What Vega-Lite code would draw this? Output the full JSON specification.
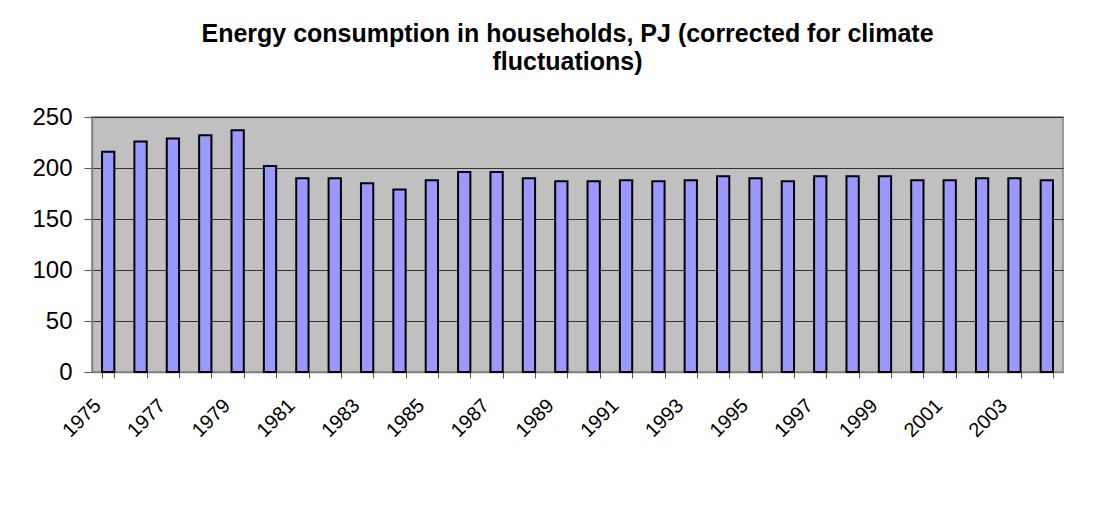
{
  "$schema": "https://vega.github.io/schema/vega-lite/v6.json",
  "autosize": "none",
  "width": 971,
  "height": 255,
  "padding": {"left": 92, "top": 117, "right": 51, "bottom": 148},
  "background": "white",
  "title": {
    "text": ["Energy consumption in households, PJ (corrected for climate", "fluctuations)"],
    "font": "Liberation Sans",
    "fontSize": 25,
    "fontWeight": "bold",
    "color": "black",
    "anchor": "middle",
    "dx": -10,
    "offset": 30,
    "lineHeight": 28
  },
  "config": {
    "view": {"fill": "#C0C0C0", "stroke": "#808080", "strokeWidth": 1.5},
    "axis": {"labelFont": "Liberation Sans", "labelColor": "black"}
  },
  "data": {
    "values": [
      {"year": "1975", "pj": 216},
      {"year": "1976", "pj": 226},
      {"year": "1977", "pj": 229},
      {"year": "1978", "pj": 232},
      {"year": "1979", "pj": 237},
      {"year": "1980", "pj": 202},
      {"year": "1981", "pj": 190},
      {"year": "1982", "pj": 190},
      {"year": "1983", "pj": 185},
      {"year": "1984", "pj": 179},
      {"year": "1985", "pj": 188},
      {"year": "1986", "pj": 196},
      {"year": "1987", "pj": 196},
      {"year": "1988", "pj": 190},
      {"year": "1989", "pj": 187},
      {"year": "1990", "pj": 187},
      {"year": "1991", "pj": 188},
      {"year": "1992", "pj": 187},
      {"year": "1993", "pj": 188},
      {"year": "1994", "pj": 192},
      {"year": "1995", "pj": 190},
      {"year": "1996", "pj": 187},
      {"year": "1997", "pj": 192},
      {"year": "1998", "pj": 192},
      {"year": "1999", "pj": 192},
      {"year": "2000", "pj": 188},
      {"year": "2001", "pj": 188},
      {"year": "2002", "pj": 190},
      {"year": "2003", "pj": 190},
      {"year": "2004", "pj": 188}
    ]
  },
  "mark": {"type": "bar", "fill": "#9999FF", "stroke": "black", "strokeWidth": 2},
  "encoding": {
    "x": {
      "field": "year",
      "type": "ordinal",
      "scale": {"paddingInner": 0.62, "paddingOuter": 0.31},
      "axis": {
        "title": null,
        "labelAngle": -45,
        "labelAlign": "right",
        "labelBaseline": "top",
        "labelFontSize": 20,
        "labelPadding": 17,
        "labelOffset": -18,
        "labelOverlap": false,
        "labelExpr": "toNumber(datum.value) % 2 == 1 ? datum.label : ''",
        "tickBand": "extent",
        "tickSize": 6,
        "tickColor": "#555555",
        "domainColor": "#808080",
        "domainWidth": 1.5,
        "grid": false
      }
    },
    "y": {
      "field": "pj",
      "type": "quantitative",
      "scale": {"domain": [0, 250], "nice": false},
      "axis": {
        "title": null,
        "values": [0, 50, 100, 150, 200, 250],
        "labelFontSize": 24,
        "labelPadding": 12,
        "tickSize": 8,
        "tickColor": "#555555",
        "domainColor": "#808080",
        "domainWidth": 1.5,
        "grid": true,
        "gridColor": "#333333",
        "gridWidth": 1
      }
    }
  }
}
